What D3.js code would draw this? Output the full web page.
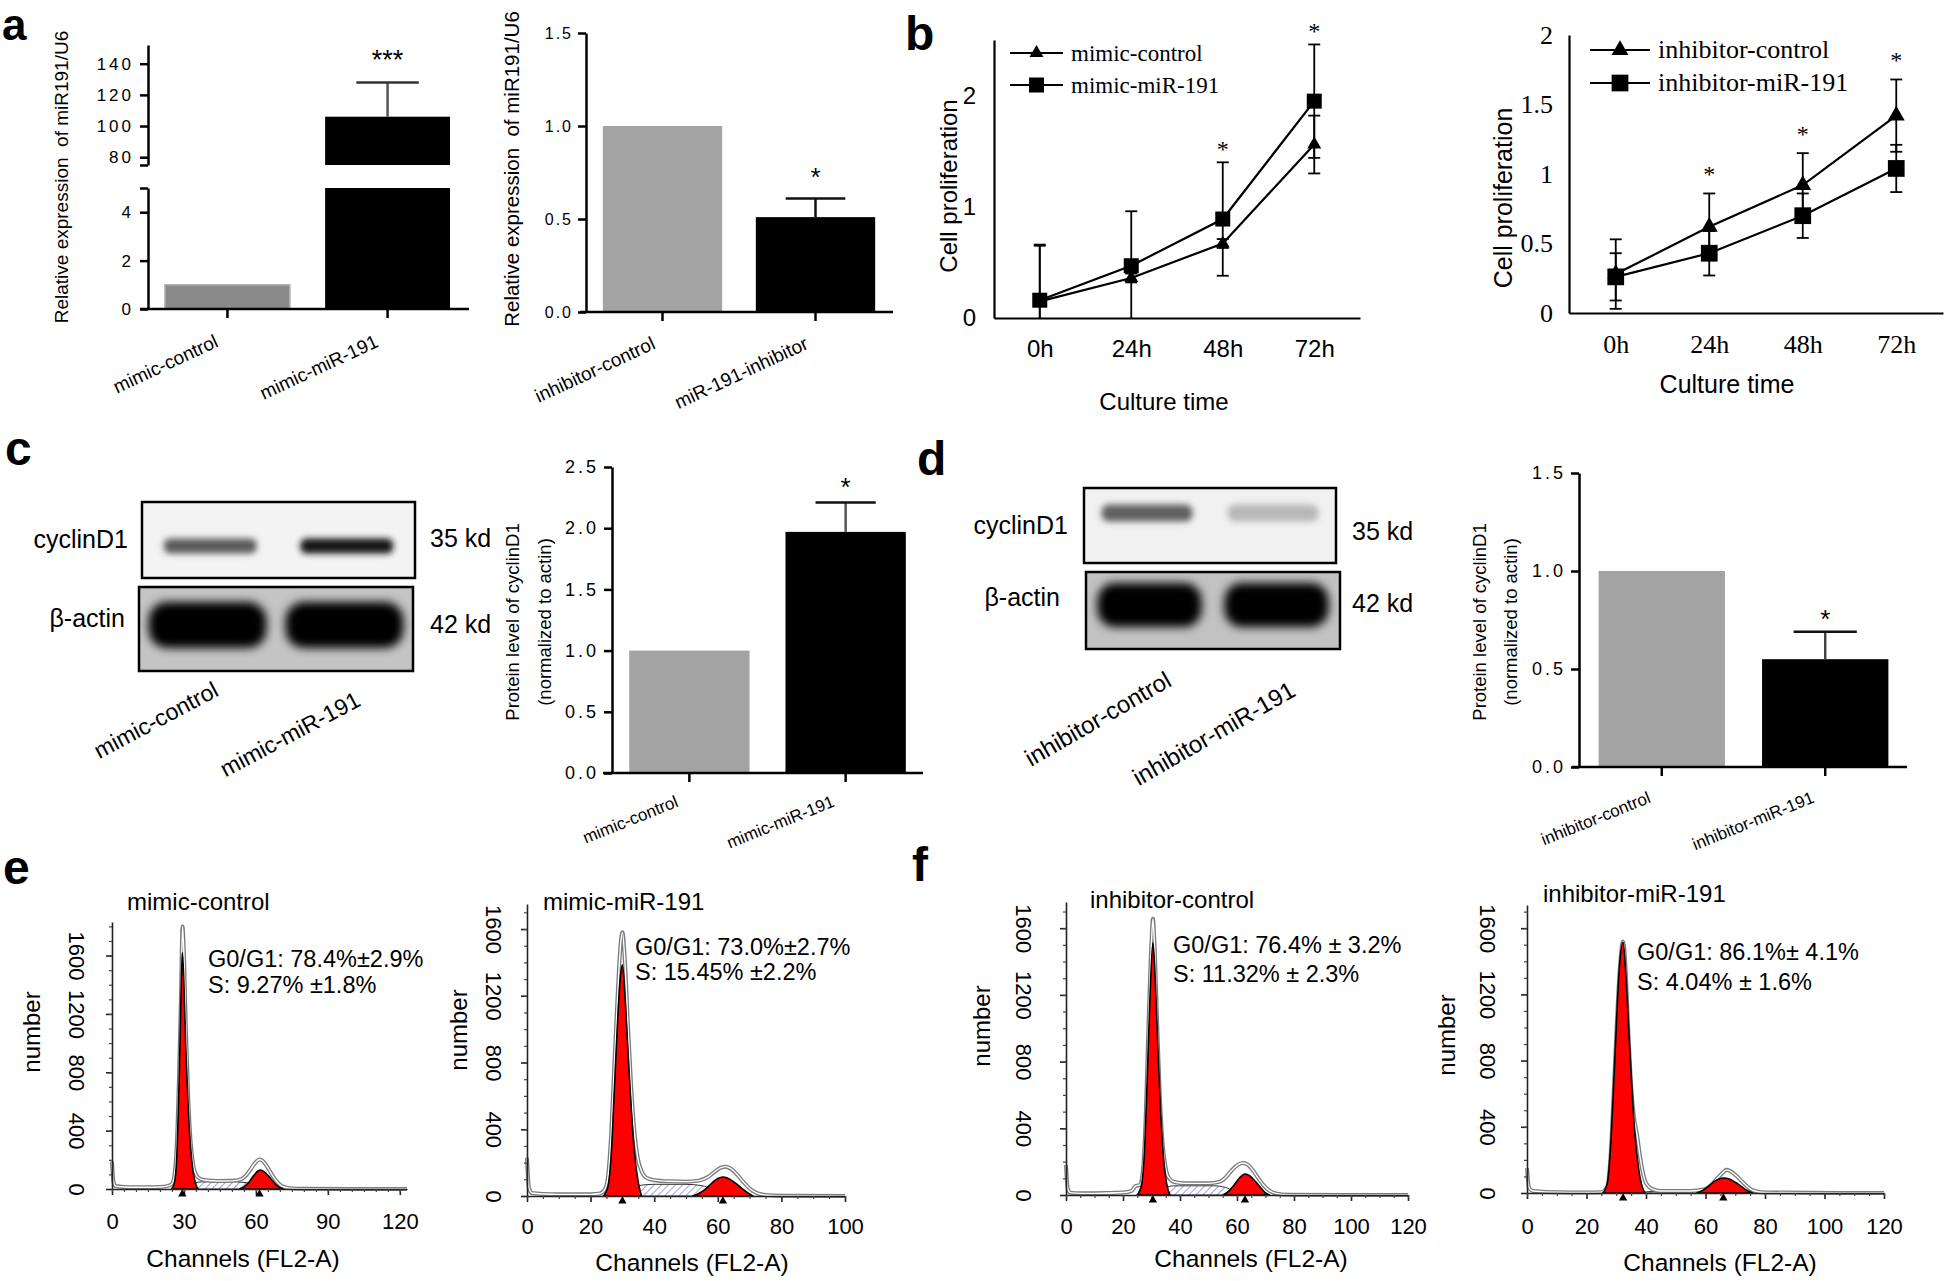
<!DOCTYPE html>
<html>
<head>
<meta charset="utf-8">
<script src="https://cdn.jsdelivr.net/npm/d3@7/dist/d3.min.js"></script>
<style>
html,body{margin:0;padding:0;background:#fff;}
svg{display:block;}
</style>
</head>
<body>
<svg id="fig" width="1946" height="1281" xmlns="http://www.w3.org/2000/svg"></svg>
<script>
// ================= DATA =================
// Panel a (qPCR)
const aMimicCats = ["mimic-control", "mimic-miR-191"];
const aMimicVals = [1, 106];
const aMimicErr  = [0, 22];
const aMimicSig  = ["", "***"];
const aMimicTicksLow  = [0, 2, 4];
const aMimicTicksHigh = [80, 100, 120, 140];

const aInhCats = ["inhibitor-control", "miR-191-inhibitor"];
const aInhVals = [1.0, 0.51];
const aInhErr  = [0, 0.10];
const aInhSig  = ["", "*"];
const aInhTicks = [0, 0.5, 1.0, 1.5];

// Panel b (cell proliferation)
const timeCats = ["0h", "24h", "48h", "72h"];
const bMimicControl    = [0.15, 0.36, 0.67, 1.56];
const bMimicControlErr = [0.50, 0.04, 0.04, 0.26];
const bMimicMiR        = [0.16, 0.47, 0.89, 1.95];
const bMimicMiRErr     = [0.50, 0.49, 0.51, 0.51];
const bMimicSig        = ["", "", "*", "*"];
const bMimicTicks      = [0, 1, 2];

const bInhControl    = [0.28, 0.62, 0.92, 1.42];
const bInhControlErr = [0.25, 0.24, 0.23, 0.26];
const bInhMiR        = [0.26, 0.43, 0.70, 1.04];
const bInhMiRErr     = [0.17, 0.16, 0.16, 0.17];
const bInhSig        = ["", "*", "*", "*"];
const bInhTicks      = [0, 0.5, 1, 1.5, 2];

// Panel c / d (western blots and quantification)
const cLanes = ["mimic-control", "mimic-miR-191"];
const cCyclinD1Band = [0.62, 0.92];
const cActinBand = [1, 1];
const cVals = [1.0, 1.97];
const cErr  = [0, 0.24];
const cSig  = ["", "*"];
const cTicks = [0, 0.5, 1.0, 1.5, 2.0, 2.5];

const dLanes = ["inhibitor-control", "inhibitor-miR-191"];
const dCyclinD1Band = [0.6, 0.24];
const dActinBand = [1, 1];
const dVals = [1.0, 0.55];
const dErr  = [0, 0.14];
const dSig  = ["", "*"];
const dTicks = [0, 0.5, 1.0, 1.5];

// Panel e / f (cell cycle histograms) : [channel, count]
const histYTicks = [0, 400, 800, 1200, 1600];

const eCtrlOutline = [[0,190],[0.6,50],[1.5,20],[5,14],[10,12],[15,12],[20,14],[23,20],[25,35],[26,90],[27,300],[28,800],[28.8,1350],[29.4,1800],[30,1600],[30.8,1100],[31.8,620],[32.8,320],[33.8,170],[35,100],[36.5,72],[39,60],[44,55],[50,56],[54,68],[56,95],[58,140],[60,185],[61.5,202],[63,190],[65,145],[67,90],[69,45],[71,18],[74,6],[80,2],[100,0],[123,0]];
const eCtrlG1 = [[24.8,0],[26,40],[27,220],[28,750],[28.8,1350],[29.3,1620],[29.9,1450],[30.8,950],[31.8,550],[32.8,280],[33.8,120],[34.8,40],[35.8,0]];
const eCtrlG2 = [[53,0],[55,15],[57,45],[59,90],[61,125],[62,130],[64,110],[66,75],[68,35],[70,10],[71.5,0]];
const eCtrlS  = [[30,0],[32,25],[35,45],[40,50],[50,50],[55,45],[60,30],[63,0]];
const eCtrlPeaks = [29.3, 61.5];

const eMiROutline = [[0,230],[0.6,50],[1.5,18],[5,12],[10,10],[20,10],[23,15],[24.5,40],[25.5,120],[26.5,380],[27.5,800],[28.5,1200],[29.4,1500],[30,1580],[30.8,1400],[31.8,1000],[32.8,640],[33.8,380],[34.8,230],[36,150],[37.5,110],[40,95],[45,88],[50,86],[54,92],[57,115],[59,145],[61,170],[62.5,176],[64,165],[66,130],[68,85],[70,45],[72,20],[75,6],[80,2],[100,0]];
const eMiRG1 = [[24,0],[25.5,60],[26.5,250],[27.5,650],[28.5,1050],[29.3,1300],[30,1386],[30.8,1200],[31.8,850],[32.8,520],[33.8,260],[35,80],[36,0]];
const eMiRG2 = [[52,0],[54,15],[56,40],[58,75],[60,105],[61.6,114],[63,108],[65,85],[67,55],[69,25],[71,0]];
const eMiRS  = [[30,0],[33,40],[36,65],[40,70],[50,70],[55,62],[58,42],[61,15],[63,0]];
const eMiRPeaks = [30, 61.6];

const fCtrlOutline = [[0,180],[0.6,40],[1.5,14],[5,10],[10,10],[20,15],[23,25],[24.5,55],[26,60],[27,150],[28,480],[29,1050],[30,1520],[30.5,1656],[31,1520],[32,1020],[33,560],[34,290],[35,160],[36,105],[38,78],[42,70],[50,70],[54,80],[56,105],[58,145],[60,178],[62,192],[63.5,185],[65.5,150],[67.5,100],[69.5,55],[71.5,25],[74,8],[78,2],[100,0],[120,0]];
const fCtrlG1 = [[25,0],[26.5,60],[27.5,250],[28.5,700],[29.5,1200],[30.5,1512],[31.3,1300],[32.2,900],[33.2,500],[34.2,230],[35.3,70],[36.5,0]];
const fCtrlG2 = [[55,0],[57,20],[59,60],[61,105],[62.8,126],[64.5,115],[66.5,80],[68.5,40],[70,12],[71.5,0]];
const fCtrlS  = [[31,0],[34,40],[38,55],[45,55],[52,55],[56,45],[59,20],[61,0]];
const fCtrlPeaks = [30.5, 62.8];

const fMiROutline = [[0,150],[0.7,30],[2,12],[5,8],[10,5],[20,3],[25,5],[27,40],[28,200],[29,550],[30,950],[31,1300],[32.3,1520],[33,1400],[34,1000],[35,650],[36,450],[37,350],[38,220],[39,120],[40,60],[42,25],[45,12],[55,12],[60,25],[62,50],[64,90],[66,125],[67,140],[68,135],[70,110],[72,75],[74,40],[76,15],[80,3],[120,0]];
const fMiRG1 = [[25.5,0],[27,60],[28,250],[29,600],[30,1000],[31,1350],[32.3,1515],[33.3,1300],[34.3,950],[35.3,620],[36.3,350],[37.5,150],[38.7,40],[39.7,0]];
const fMiRG2 = [[57,0],[59,15],[61,40],[63,70],[66,91],[68,85],[70,65],[72,40],[74,15],[76,0]];
const fMiRS  = [[38,0],[42,10],[52,12],[58,8],[61,0]];
const fMiRPeaks = [32.3, 66];

// ================= DRAWING =================
const FONT = "Arial, 'Liberation Sans', Helvetica, sans-serif";
const SERIF = "'Times New Roman', 'Liberation Serif', Times, serif";
const svg = d3.select("#fig");
svg.append("rect").attr("width",1946).attr("height",1281).attr("fill","#fff");
const defs = svg.append("defs");
defs.append("filter").attr("id","blur3").attr("x","-30%").attr("y","-100%").attr("width","160%").attr("height","300%")
  .append("feGaussianBlur").attr("stdDeviation",3.2);
defs.append("filter").attr("id","blur5").attr("x","-30%").attr("y","-100%").attr("width","160%").attr("height","300%")
  .append("feGaussianBlur").attr("stdDeviation",5);
const pat = defs.append("pattern").attr("id","hatch").attr("patternUnits","userSpaceOnUse")
  .attr("width",5).attr("height",5).attr("patternTransform","rotate(45)");
pat.append("rect").attr("width",5).attr("height",5).attr("fill","#fff");
pat.append("line").attr("x1",0).attr("y1",0).attr("x2",0).attr("y2",5).attr("stroke","#6b6bd6").attr("stroke-width",1.3);

function txt(g, x, y, s, size, opts = {}) {
  const t = g.append("text").attr("x", x).attr("y", y).text(s)
    .attr("font-size", size).attr("font-family", opts.family || FONT).attr("fill", "#000");
  if (opts.anchor) t.attr("text-anchor", opts.anchor);
  if (opts.weight) t.attr("font-weight", opts.weight);
  if (opts.rot !== undefined) t.attr("x", null).attr("y", null).attr("transform", `translate(${x},${y}) rotate(${opts.rot})`);
  return t;
}
function styleAxis(sel, o) {
  sel.attr("font-family", o.family || FONT).attr("font-size", o.size);
  sel.select(".domain").attr("stroke", o.color || "#000").attr("stroke-width", o.sw || 2);
  sel.selectAll(".tick line").attr("stroke", o.color || "#000").attr("stroke-width", o.sw || 2);
  sel.selectAll(".tick text").attr("fill", "#000");
  if (o.ls) sel.selectAll(".tick text").attr("letter-spacing", o.ls);
}

// panel letters
[["a",2,40,44],["b",905,50,48],["c",5,465,48],["d",917,475,48],["e",3,884,48],["f",912,881,48]].forEach(([l,x,y,s]) =>
  txt(svg, x, y, l, s, {weight: "bold"}));

// ---------- Panel a left (broken axis) ----------
(function() {
  const g = svg.append("g");
  const x = d3.scaleBand().domain(aMimicCats).range([148, 467]).paddingInner(0.22).paddingOuter(0.106);
  const yLo = d3.scaleLinear().domain([0, 5]).range([309, 188]);
  const yHi = d3.scaleLinear().domain([75, 152]).range([165, 45]);
  const colors = ["#8a8a8a", "#000"];
  aMimicCats.forEach((c, i) => {
    const v = aMimicVals[i], bx = x(c), bw = x.bandwidth();
    if (v <= 5) {
      g.append("rect").attr("x", bx).attr("width", bw).attr("y", yLo(v)).attr("height", yLo(0) - yLo(v))
        .attr("fill", colors[i]).attr("stroke", i === 0 ? "#b0b0b0" : "none").attr("stroke-width", 1.5);
    } else {
      g.append("rect").attr("x", bx).attr("width", bw).attr("y", yLo(5)).attr("height", yLo(0) - yLo(5)).attr("fill", colors[i]);
      g.append("rect").attr("x", bx).attr("width", bw).attr("y", yHi(v)).attr("height", yHi(75) - yHi(v)).attr("fill", colors[i]);
      const cx = bx + bw / 2, top = yHi(v + aMimicErr[i]);
      g.append("line").attr("x1", cx).attr("x2", cx).attr("y1", yHi(v)).attr("y2", top).attr("stroke", "#555").attr("stroke-width", 2.5);
      g.append("line").attr("x1", cx - bw / 4).attr("x2", cx + bw / 4).attr("y1", top).attr("y2", top).attr("stroke", "#333").attr("stroke-width", 2.5);
      txt(g, cx, top - 13, aMimicSig[i], 27, {anchor: "middle"});
    }
  });
  const lo = g.append("g").attr("transform", "translate(148,0)")
    .call(d3.axisLeft(yLo).tickValues(aMimicTicksLow.concat([5])).tickFormat(d => d === 5 ? "" : d).tickSize(8).tickSizeOuter(0).tickPadding(6));
  styleAxis(lo, {size: 17, ls: 3, sw: 2.5});
  const hi = g.append("g").attr("transform", "translate(148,0)")
    .call(d3.axisLeft(yHi).tickValues([75].concat(aMimicTicksHigh)).tickFormat(d => d === 75 ? "" : d).tickSize(8).tickSizeOuter(0).tickPadding(6));
  styleAxis(hi, {size: 17, ls: 3, sw: 2.5});
  const xa = g.append("g").attr("transform", `translate(0,${yLo(0)})`).call(d3.axisBottom(x).tickSize(9).tickSizeOuter(0).tickFormat(""));
  xa.select(".domain").remove();
  styleAxis(xa, {size: 17, sw: 2.5});
  g.append("line").attr("x1", 140).attr("x2", 469).attr("y1", yLo(0)).attr("y2", yLo(0)).attr("stroke", "#000").attr("stroke-width", 2.5);
  aMimicCats.forEach(c => txt(g, x(c) + x.bandwidth() / 2 - 8, yLo(0) + 37, c, 19, {anchor: "end", rot: -25}));
  txt(g, 68, 177, "Relative expression  of miR191/U6", 19, {anchor: "middle", rot: -90}).style("white-space", "pre");
})();

// ---------- generic bar chart ----------
function barChart(o) {
  const g = svg.append("g");
  const x = d3.scaleBand().domain(o.cats).range(o.xRange).paddingInner(o.pi).paddingOuter(o.po);
  const y = d3.scaleLinear().domain(o.yDomain).range(o.yRange);
  g.selectAll("rect.bar").data(o.vals).join("rect").attr("class", "bar")
    .attr("x", (d, i) => x(o.cats[i])).attr("width", x.bandwidth())
    .attr("y", d => y(d)).attr("height", d => y(0) - y(d))
    .attr("fill", (d, i) => o.colors[i]);
  o.vals.forEach((v, i) => {
    if (!o.errs[i]) return;
    const cx = x(o.cats[i]) + x.bandwidth() / 2, top = y(v + o.errs[i]);
    g.append("line").attr("x1", cx).attr("x2", cx).attr("y1", y(v)).attr("y2", top).attr("stroke", o.errColor).attr("stroke-width", 2.5);
    g.append("line").attr("x1", cx - x.bandwidth() / 4).attr("x2", cx + x.bandwidth() / 4).attr("y1", top).attr("y2", top).attr("stroke", "#111").attr("stroke-width", 2.5);
    if (o.sig[i]) txt(g, cx, top - o.starOff, o.sig[i], 26, {anchor: "middle"});
  });
  const ya = g.append("g").attr("transform", `translate(${o.xRange[0]},0)`)
    .call(d3.axisLeft(y).tickValues(o.yTicks).tickFormat(d3.format(".1f")).tickSize(8).tickSizeOuter(0).tickPadding(5));
  styleAxis(ya, {size: o.tickFont, ls: o.ls, sw: 2.5});
  const xa = g.append("g").attr("transform", `translate(0,${y(0)})`).call(d3.axisBottom(x).tickSize(9).tickSizeOuter(0).tickFormat(""));
  xa.select(".domain").remove();
  styleAxis(xa, {size: 12, sw: 2.5});
  g.append("line").attr("x1", o.xLine[0]).attr("x2", o.xLine[1]).attr("y1", y(0)).attr("y2", y(0)).attr("stroke", "#000").attr("stroke-width", 2.5);
  o.cats.forEach(c => txt(g, x(c) + x.bandwidth() / 2 + o.labDx, y(0) + o.labDy, c, o.labSize, {anchor: "end", rot: o.labRot}));
  o.yLabels.forEach(([s, lx]) => txt(g, lx, o.yLabY, s, o.yLabSize, {anchor: "middle", rot: -90}).style("white-space", "pre"));
}

barChart({cats: aInhCats, vals: aInhVals, errs: aInhErr, sig: aInhSig, colors: ["#a3a3a3", "#000"],
  xRange: [586, 892], pi: 0.22, po: 0.11, yDomain: [0, 1.5], yRange: [312, 33], yTicks: aInhTicks,
  tickFont: 16, ls: 2, errColor: "#111", starOff: 13, xLine: [580, 893],
  labDx: -6, labDy: 36, labRot: -25, labSize: 19,
  yLabels: [["Relative expression  of miR191/U6", 519]], yLabY: 169, yLabSize: 20.5});

barChart({cats: cLanes, vals: cVals, errs: cErr, sig: cSig, colors: ["#a3a3a3", "#000"],
  xRange: [612, 923], pi: 0.23, po: 0.11, yDomain: [0, 2.5], yRange: [773, 467], yTicks: cTicks,
  tickFont: 18, ls: 3, errColor: "#555", starOff: 6, xLine: [603, 923],
  labDx: -10, labDy: 33, labRot: -22, labSize: 17,
  yLabels: [["Protein level of cyclinD1", 519], ["(normalized to actin)", 551]], yLabY: 622, yLabSize: 18.5});

barChart({cats: dLanes, vals: dVals, errs: dErr, sig: dSig, colors: ["#a3a3a3", "#000"],
  xRange: [1579, 1908], pi: 0.227, po: 0.12, yDomain: [0, 1.5], yRange: [767, 473], yTicks: dTicks,
  tickFont: 18, ls: 3, errColor: "#444", starOff: 4, xLine: [1572, 1907],
  labDx: -10, labDy: 35, labRot: -22, labSize: 17,
  yLabels: [["Protein level of cyclinD1", 1486], ["(normalized to actin)", 1517]], yLabY: 622, yLabSize: 18.5});

// ---------- Panel b line charts ----------
function lineChart(o) {
  const g = svg.append("g");
  const x = d3.scalePoint().domain(timeCats).range(o.xRange).padding(0.5);
  const y = d3.scaleLinear().domain(o.yDomain).range(o.yRange);
  const ya = g.append("g").attr("transform", `translate(${o.xRange[0]},0)`)
    .call(d3.axisLeft(y).tickValues(o.yTicks).tickFormat(d => String(d)).tickSize(0).tickSizeOuter(0).tickPadding(o.yPad));
  styleAxis(ya, {size: o.tickFont, family: o.tickFamily, sw: 2.2});
  const xa = g.append("g").attr("transform", `translate(0,${o.yRange[0]})`)
    .call(d3.axisBottom(x).tickSize(0).tickSizeOuter(0).tickPadding(o.xPad));
  styleAxis(xa, {size: o.tickFont, family: o.tickFamily, sw: 2.2});
  o.series.forEach(s => {
    s.vals.forEach((v, i) => {
      const cx = x(timeCats[i]);
      const loV = v - s.err[i], hiV = v + s.err[i];
      g.append("line").attr("x1", cx).attr("x2", cx).attr("y1", y(Math.max(0, loV))).attr("y2", y(hiV)).attr("stroke", "#000").attr("stroke-width", 1.8);
      g.append("line").attr("x1", cx - 6).attr("x2", cx + 6).attr("y1", y(hiV)).attr("y2", y(hiV)).attr("stroke", "#000").attr("stroke-width", 1.8);
      if (loV > 0) g.append("line").attr("x1", cx - 6).attr("x2", cx + 6).attr("y1", y(loV)).attr("y2", y(loV)).attr("stroke", "#000").attr("stroke-width", 1.8);
    });
    g.append("path").datum(s.vals).attr("fill", "none").attr("stroke", "#000").attr("stroke-width", 2.2)
      .attr("d", d3.line().x((d, i) => x(timeCats[i])).y(d => y(d)));
    g.selectAll(null).data(s.vals).join("path")
      .attr("d", d3.symbol(s.shape === "tri" ? d3.symbolTriangle : d3.symbolSquare, s.size))
      .attr("transform", (d, i) => `translate(${x(timeCats[i])},${y(d)})`).attr("fill", "#000");
  });
  o.sig.forEach((s, i) => {
    if (!s) return;
    const top = d3.max(o.series, se => se.vals[i] + se.err[i]);
    txt(g, x(timeCats[i]), y(top) - o.starOff, s, 24, {anchor: "middle", family: SERIF});
  });
  o.series.forEach((s, k) => {
    const ly = o.legY[k];
    g.append("line").attr("x1", o.legX[0]).attr("x2", o.legX[1]).attr("y1", ly).attr("y2", ly).attr("stroke", "#000").attr("stroke-width", 2.2);
    g.append("path").attr("d", d3.symbol(s.shape === "tri" ? d3.symbolTriangle : d3.symbolSquare, s.size))
      .attr("transform", `translate(${(o.legX[0] + o.legX[1]) / 2},${ly})`).attr("fill", "#000");
    txt(g, o.legX[1] + 8, ly + 8, s.name, o.legFont, {family: SERIF});
  });
  txt(g, o.titleX, o.titleY, "Culture time", o.labFont, {anchor: "middle"});
  txt(g, o.ylabX, o.ylabY, "Cell proliferation", o.labFont, {anchor: "middle", rot: -90});
}

lineChart({xRange: [994, 1360], yDomain: [0, 2.5], yRange: [318, 40], yTicks: bMimicTicks,
  tickFont: 24, tickFamily: FONT, yPad: 18, xPad: 22,
  series: [
    {name: "mimic-control", vals: bMimicControl, err: bMimicControlErr, shape: "tri", size: 85},
    {name: "mimic-miR-191", vals: bMimicMiR, err: bMimicMiRErr, shape: "sq", size: 225}],
  sig: bMimicSig, starOff: 5, legX: [1010, 1063], legY: [53, 85], legFont: 23,
  titleX: 1164, titleY: 410, ylabX: 957, ylabY: 186, labFont: 24});

lineChart({xRange: [1569, 1943], yDomain: [0, 2], yRange: [313, 35], yTicks: bInhTicks,
  tickFont: 26, tickFamily: SERIF, yPad: 16, xPad: 22,
  series: [
    {name: "inhibitor-control", vals: bInhControl, err: bInhControlErr, shape: "tri", size: 125},
    {name: "inhibitor-miR-191", vals: bInhMiR, err: bInhMiRErr, shape: "sq", size: 280}],
  sig: bInhSig, starOff: 11, legX: [1590, 1650], legY: [50, 83], legFont: 26,
  titleX: 1727, titleY: 393, ylabX: 1512, ylabY: 198, labFont: 25});

// ---------- Western blots ----------
let clipId = 0;
function blot(o) {
  const g = svg.append("g");
  const boxes = [
    {x0: o.b1x[0], x1: o.b1x[1], y0: o.b1y[0], y1: o.b1y[1], bg: o.bg1, vals: o.cyc, cy: o.cycY, h: o.cycH, w: o.cycW, filt: "blur3", dark: o.cycDark},
    {x0: o.b2x[0], x1: o.b2x[1], y0: o.b2y[0], y1: o.b2y[1], bg: o.bg2, vals: o.act, cy: o.actY, h: o.actH, w: o.actW, filt: "blur5", dark: "#000"}];
  boxes.forEach(b => {
    const id = "clip" + (clipId++);
    defs.append("clipPath").attr("id", id).append("rect").attr("x", b.x0).attr("y", b.y0).attr("width", b.x1 - b.x0).attr("height", b.y1 - b.y0);
    const bg = g.append("g").attr("clip-path", `url(#${id})`);
    bg.append("rect").attr("x", b.x0).attr("y", b.y0).attr("width", b.x1 - b.x0).attr("height", b.y1 - b.y0).attr("fill", b.bg);
    const x = d3.scaleBand().domain(o.lanes).range([b.x0, b.x1]);
    bg.selectAll(null).data(b.vals).join("rect")
      .attr("x", (d, i) => x(o.lanes[i]) + x.bandwidth() * (1 - b.w) / 2).attr("width", x.bandwidth() * b.w)
      .attr("y", b.cy - b.h / 2).attr("height", b.h).attr("rx", b.h / 2.5)
      .attr("fill", d => d3.interpolateRgb(b.bg, b.dark)(d)).attr("filter", `url(#${b.filt})`);
    g.append("rect").attr("x", b.x0).attr("y", b.y0).attr("width", b.x1 - b.x0).attr("height", b.y1 - b.y0)
      .attr("fill", "none").attr("stroke", "#000").attr("stroke-width", 2.5);
  });
  txt(g, o.nameX[0], o.cycBase, "cyclinD1", 25, {anchor: "end"});
  txt(g, o.nameX[1], o.actBase, "\u03B2-actin", 25, {anchor: "end"});
  txt(g, o.kdX, o.kdBase[0], "35 kd", 25);
  txt(g, o.kdX, o.kdBase[1], "42 kd", 25);
  o.lanes.forEach((l, i) => txt(g, o.labE[i][0], o.labE[i][1], l, o.labSize, {anchor: "end", rot: o.labRot}));
}
blot({lanes: cLanes, cyc: cCyclinD1Band, act: cActinBand,
  b1x: [142, 415], b1y: [502, 578], b2x: [139, 413], b2y: [587, 671],
  bg1: "#f3f3f3", bg2: "#c4c4c4", cycY: 546, cycH: 15, cycW: 0.68, cycDark: "#000",
  actY: 625, actH: 46, actW: 0.86,
  nameX: [128, 125], cycBase: 548, actBase: 627, kdX: 430, kdBase: [547, 633],
  labE: [[220, 695], [362, 705]], labRot: -28, labSize: 23});
blot({lanes: dLanes, cyc: dCyclinD1Band, act: dActinBand,
  b1x: [1084, 1336], b1y: [488, 563], b2x: [1086, 1340], b2y: [572, 649],
  bg1: "#f1f1f1", bg2: "#c2c2c2", cycY: 513, cycH: 17, cycW: 0.72, cycDark: "#000",
  actY: 605, actH: 44, actW: 0.82,
  nameX: [1068, 1060], cycBase: 534, actBase: 606, kdX: 1352, kdBase: [540, 612],
  labE: [[1173, 685], [1297, 695]], labRot: -30, labSize: 24});

// ---------- Cell cycle histograms ----------
function histo(o) {
  const g = svg.append("g");
  const x = d3.scaleLinear().domain(o.xDomain).range(o.xRange);
  const y = d3.scaleLinear().domain(o.yDomain).range(o.yRange);
  const area = d3.area().x(d => x(d[0])).y0(y(0)).y1(d => y(d[1])).curve(d3.curveMonotoneX);
  const line = d3.line().x(d => x(d[0])).y(d => y(d[1])).curve(d3.curveMonotoneX);
  g.append("path").datum(o.s).attr("d", area).attr("fill", "url(#hatch)").attr("stroke", "#333").attr("stroke-width", 1);
  g.append("path").datum(o.outline).attr("d", line).attr("fill", "none").attr("stroke", "#7a7a7a").attr("stroke-width", 4);
  g.append("path").datum(o.outline).attr("d", line).attr("fill", "none").attr("stroke", "#fff").attr("stroke-width", 1.4);
  [o.g1, o.g2].forEach(d => g.append("path").datum(d).attr("d", area).attr("fill", "#ff0000").attr("stroke", "#000").attr("stroke-width", 1.6));
  const ya = g.append("g").attr("transform", `translate(${o.xRange[0]},0)`)
    .call(d3.axisLeft(y).tickValues(histYTicks).tickFormat(d3.format("d")).tickSize(6).tickSizeOuter(0));
  styleAxis(ya, {size: 22, sw: 1.6, color: "#222"});
  ya.selectAll(".tick text").attr("x", 0).attr("dy", null).attr("text-anchor", "middle")
    .attr("transform", `translate(${-o.yLabOff},0) rotate(90)`);
  const yMinor = g.append("g").attr("transform", `translate(${o.xRange[0]},0)`)
    .call(d3.axisLeft(y).tickValues(d3.range(100, o.yDomain[1], 100)).tickSize(3).tickSizeOuter(0).tickFormat(""));
  styleAxis(yMinor, {size: 10, sw: 1.2, color: "#444"});
  yMinor.select(".domain").remove();
  const xa = g.append("g").attr("transform", `translate(0,${y(0)})`)
    .call(d3.axisBottom(x).tickValues(o.xTicks).tickFormat(d3.format("d")).tickSize(6).tickSizeOuter(0).tickPadding(o.xPad));
  styleAxis(xa, {size: 22, sw: 1.6, color: "#222"});
  const xMinor = g.append("g").attr("transform", `translate(0,${y(0)})`)
    .call(d3.axisBottom(x).tickValues(d3.range(0, o.xDomain[1] + 0.01, 5)).tickSize(3).tickSizeOuter(0).tickFormat(""));
  styleAxis(xMinor, {size: 10, sw: 1.2, color: "#444"});
  xMinor.select(".domain").remove();
  g.selectAll(null).data(o.peaks).join("path").attr("d", d3.symbol(d3.symbolTriangle, 30))
    .attr("transform", d => `translate(${x(d)},${y(0) + 5})`).attr("fill", "#000");
  txt(g, o.titleX, o.titleY, o.title, 24);
  txt(g, o.statX, o.statY[0], o.stats[0], 23.5);
  txt(g, o.statX, o.statY[1], o.stats[1], 23.5);
  txt(g, o.numX, o.numY, "number", 24, {anchor: "middle", rot: -90});
  txt(g, o.chX, o.chY, "Channels (FL2-A)", 24.5, {anchor: "middle"});
}

histo({xDomain: [0, 123], xRange: [112, 407], yDomain: [0, 1830], yRange: [1189, 922],
  xTicks: [0, 30, 60, 90, 120], xPad: 18, yLabOff: 43,
  outline: eCtrlOutline, g1: eCtrlG1, g2: eCtrlG2, s: eCtrlS, peaks: eCtrlPeaks,
  title: "mimic-control", titleX: 127, titleY: 910,
  stats: ["G0/G1: 78.4%\u00B12.9%", "S: 9.27% \u00B11.8%"], statX: 208, statY: [967, 993],
  numX: 40, numY: 1032, chX: 243, chY: 1267});

histo({xDomain: [0, 100], xRange: [527, 845], yDomain: [0, 1750], yRange: [1196, 904],
  xTicks: [0, 20, 40, 60, 80, 100], xPad: 16, yLabOff: 41,
  outline: eMiROutline, g1: eMiRG1, g2: eMiRG2, s: eMiRS, peaks: eMiRPeaks,
  title: "mimic-miR-191", titleX: 543, titleY: 910,
  stats: ["G0/G1: 73.0%\u00B12.7%", "S: 15.45% \u00B12.2%"], statX: 635, statY: [955, 980],
  numX: 467, numY: 1030, chX: 692, chY: 1271});

histo({xDomain: [0, 120], xRange: [1066, 1408], yDomain: [0, 1757], yRange: [1195, 902],
  xTicks: [0, 20, 40, 60, 80, 100, 120], xPad: 17, yLabOff: 50,
  outline: fCtrlOutline, g1: fCtrlG1, g2: fCtrlG2, s: fCtrlS, peaks: fCtrlPeaks,
  title: "inhibitor-control", titleX: 1090, titleY: 908,
  stats: ["G0/G1: 76.4% \u00B1 3.2%", "S: 11.32%  \u00B1 2.3%"], statX: 1173, statY: [953, 982],
  numX: 990, numY: 1026, chX: 1251, chY: 1267});

histo({xDomain: [0, 120], xRange: [1527, 1884], yDomain: [0, 1740], yRange: [1193, 905],
  xTicks: [0, 20, 40, 60, 80, 100, 120], xPad: 19, yLabOff: 47,
  outline: fMiROutline, g1: fMiRG1, g2: fMiRG2, s: fMiRS, peaks: fMiRPeaks,
  title: "inhibitor-miR-191", titleX: 1543, titleY: 902,
  stats: ["G0/G1: 86.1%\u00B1 4.1%", "S: 4.04%  \u00B1 1.6%"], statX: 1637, statY: [960, 990],
  numX: 1455, numY: 1035, chX: 1720, chY: 1271});
</script>
</body>
</html>
